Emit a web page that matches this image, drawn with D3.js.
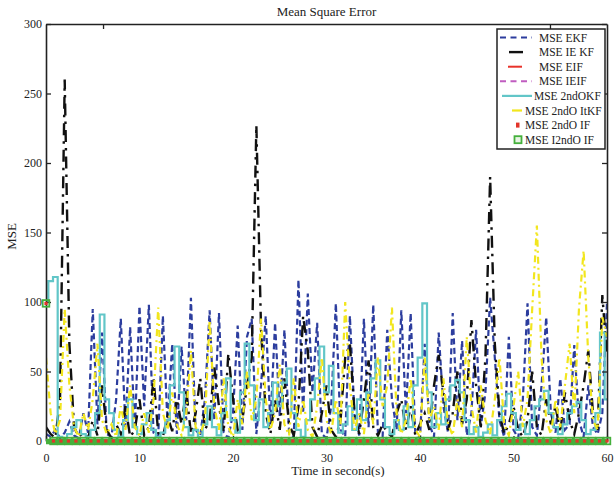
<!DOCTYPE html>
<html>
<head>
<meta charset="utf-8">
<script src="https://cdn.jsdelivr.net/npm/d3@7"></script>
<style>
  html, body { margin: 0; padding: 0; background: #fff; }
  svg { display: block; font-family: "Liberation Serif", "Times New Roman", serif; }
</style>
</head>
<body>
<svg id="chart" width="614" height="477"></svg>
<script>
// ---- data -------------------------------------------------------------
const timeStep = 0.5;        // seconds between filter samples
const markerStep = 0.8;      // seconds between information-filter samples

const mseEKF = [
  5, 3, 8, 2, 6, 14, 4, 2, 20, 6,
  95, 12, 78, 5, 3, 30, 88, 10, 82, 8,
  97, 25, 98, 6, 3, 90, 12, 70, 5, 68,
  15, 103, 8, 4, 30, 94, 15, 92, 6, 2,
  20, 83, 8, 75, 88, 5, 40, 90, 12, 85,
  18, 80, 6, 3, 116, 20, 106, 35, 85, 5,
  2, 25, 99, 8, 3, 90, 18, 4, 88, 10,
  98, 6, 3, 80, 30, 8, 94, 20, 92, 5,
  2, 70, 12, 3, 78, 25, 6, 92, 15, 72,
  4, 20, 80, 10, 35, 103, 60, 15, 3, 75,
  8, 2, 30, 99, 10, 4, 40, 89, 20, 6,
  45, 8, 12, 69, 15, 3, 40, 10, 5, 20,
  100
];

const mseIEKF = [
  10, 5, 2, 30, 260, 70, 10, 3, 6, 2,
  15, 4, 40, 8, 2, 12, 5, 25, 3, 8,
  30, 4, 10, 45, 6, 3, 18, 7, 30, 12,
  37, 5, 20, 45, 8, 15, 53, 25, 6, 63,
  30, 8, 15, 40, 60, 227, 80, 20, 5, 30,
  8, 45, 12, 4, 25, 90, 65, 10, 3, 20,
  40, 8, 3, 15, 60, 70, 20, 5, 30, 58,
  10, 4, 12, 6, 3, 20, 30, 8, 25, 4,
  12, 20, 8, 40, 62, 35, 8, 20, 50, 12,
  30, 87, 40, 10, 60, 190, 70, 20, 5, 12,
  25, 8, 3, 15, 50, 10, 4, 30, 12, 25,
  6, 35, 15, 5, 20, 40, 65, 20, 8, 105,
  60
];

const mse2ndOKF = [
  100, 115, 118, 3, 2, 5, 10, 15, 5, 3,
  8, 20, 91, 30, 20, 8, 3, 15, 30, 10,
  5, 12, 20, 8, 3, 6, 15, 40, 68, 35,
  10, 4, 8, 3, 12, 25, 10, 4, 20, 45,
  15, 6, 35, 70, 40, 15, 30, 10, 20, 42,
  25, 42, 52, 20, 8, 3, 15, 30, 45, 68,
  35, 54, 20, 6, 12, 25, 8, 30, 15, 35,
  45, 58, 30, 10, 5, 15, 8, 25, 10, 40,
  60, 99, 35, 10, 20, 12, 30, 40, 44, 35,
  15, 5, 10, 3, 6, 12, 4, 15, 25, 34,
  20, 8, 12, 5, 15, 25, 30, 36, 20, 10,
  5, 12, 20, 25, 28, 15, 5, 8, 20, 78,
  30
];

const mse2ndOItKF = [
  60, 20, 5, 15, 95, 40, 10, 3, 20, 8,
  30, 70, 15, 5, 12, 3, 25, 8, 40, 10,
  4, 20, 6, 30, 96, 20, 8, 35, 12, 4,
  20, 65, 10, 5, 15, 87, 25, 8, 45, 10,
  3, 30, 12, 50, 15, 30, 88, 30, 8, 20,
  55, 12, 4, 45, 10, 30, 8, 3, 25, 60,
  15, 5, 30, 12, 100, 40, 8, 20, 5, 35,
  12, 60, 25, 40, 96, 20, 5, 15, 45, 8,
  3, 60, 15, 25, 8, 45, 12, 4, 30, 10,
  75, 25, 6, 40, 15, 5, 30, 60, 12, 4,
  25, 50, 10, 30, 95, 155, 60, 15, 5, 30,
  10, 40, 70, 20, 95, 137, 60, 15, 8, 89,
  75
];

// information filters stay close to zero (sampled every 5 s)
const mseEIF  = [0.8, 0.5, 0.6, 0.4, 0.7, 0.5, 0.3, 0.6, 0.4, 0.5, 0.3, 0.4, 0.5];
const mseIEIF = [0.6, 0.4, 0.5, 0.3, 0.5, 0.4, 0.6, 0.3, 0.5, 0.4, 0.3, 0.5, 0.4];

const mse2ndOIF = [
  99, 0, 0, 0, 0, 0, 0, 0, 0, 0, 0, 0, 0, 0, 0, 0,
  0, 0, 0, 0, 0, 0, 0, 0, 0, 0, 0, 0, 0, 0, 0, 0,
  0, 0, 0, 0, 0, 0, 0, 0, 0, 0, 0, 0, 0, 0, 0, 0,
  0, 0, 0, 0, 0, 0, 0, 0, 0, 0, 0, 0, 0, 0, 0, 0,
  0, 0, 0, 0, 0, 0, 0, 0, 0, 0, 0, 0
];
const mseI2ndOIF = [
  99, 0, 0, 0, 0, 0, 0, 0, 0, 0, 0, 0, 0, 0, 0, 0,
  0, 0, 0, 0, 0, 0, 0, 0, 0, 0, 0, 0, 0, 0, 0, 0,
  0, 0, 0, 0, 0, 0, 0, 0, 0, 0, 0, 0, 0, 0, 0, 0,
  0, 0, 0, 0, 0, 0, 0, 0, 0, 0, 0, 0, 0, 0, 0, 0,
  0, 0, 0, 0, 0, 0, 0, 0, 0, 0, 0, 0
];

const xTicks = [0, 10, 20, 30, 40, 50, 60];
const yTicks = [0, 50, 100, 150, 200, 250, 300];
const topMinorTicks = [6.1, 53.9];

// ---- layout ------------------------------------------------------------
const svg = d3.select("#chart");
const plot = { left: 46, right: 607, top: 24, bottom: 441 };

const x = d3.scaleLinear().domain([0, 60]).range([plot.left, plot.right]);
const y = d3.scaleLinear().domain([0, 300]).range([plot.bottom, plot.top]);

svg.append("defs").append("clipPath").attr("id", "plotClip")
  .append("rect")
  .attr("x", plot.left).attr("y", plot.top - 2)
  .attr("width", plot.right - plot.left).attr("height", plot.bottom - plot.top + 4);

const lineSeries = [
  { label: "MSE EKF",       values: mseEKF,      step: timeStep, color: "#2c3d9e", width: 2.2, dash: "6,3.5",      curve: d3.curveLinear },
  { label: "MSE IE KF",     values: mseIEKF,     step: timeStep, color: "#111111", width: 2.4, dash: "12,6,2.5,6", curve: d3.curveLinear },
  { label: "MSE EIF",       values: mseEIF,      step: 5,        color: "#e8322a", width: 2,   dash: null,         curve: d3.curveLinear },
  { label: "MSE IEIF",      values: mseIEIF,     step: 5,        color: "#c05cc0", width: 2,   dash: "6,4",        curve: d3.curveLinear },
  { label: "MSE 2ndOKF",    values: mse2ndOKF,   step: timeStep, color: "#62c6c8", width: 2.2, dash: null,         curve: d3.curveStep },
  { label: "MSE 2ndO ItKF", values: mse2ndOItKF, step: timeStep, color: "#f2e61e", width: 2.2, dash: "7,4,2,4",    curve: d3.curveLinear }
];

const lines = svg.append("g").attr("clip-path", "url(#plotClip)");
lineSeries.forEach(s => {
  const gen = d3.line()
    .x((d, i) => x(i * s.step))
    .y(d => y(d))
    .curve(s.curve);
  lines.append("path")
    .datum(s.values)
    .attr("d", gen)
    .attr("fill", "none")
    .attr("stroke", s.color)
    .attr("stroke-width", s.width)
    .attr("stroke-dasharray", s.dash)
    .attr("stroke-linejoin", "miter");
});

// marker-only series along the baseline
const green = "#45b03c";
const red = "#e2352a";
const markers = svg.append("g");
markers.append("line")
  .attr("x1", plot.left).attr("x2", plot.right)
  .attr("y1", y(0) + 0.5).attr("y2", y(0) + 0.5)
  .attr("stroke", green).attr("stroke-width", 5.5);
markers.selectAll("rect.i2nd")
  .data(mseI2ndOIF)
  .join("rect")
  .attr("class", "i2nd")
  .attr("x", (d, i) => x(i * markerStep) - 3.3)
  .attr("y", d => y(d) - 3.3)
  .attr("width", 6.6).attr("height", 6.6)
  .attr("fill", "none")
  .attr("stroke", green).attr("stroke-width", 1.8);
markers.selectAll("rect.ifdot")
  .data(mse2ndOIF)
  .join("rect")
  .attr("class", "ifdot")
  .attr("x", (d, i) => x(i * markerStep) - 1.6)
  .attr("y", d => y(d) - 1.6)
  .attr("width", 3.2).attr("height", 3.2)
  .attr("fill", red);

// ---- axes --------------------------------------------------------------
const axisColor = "#222";
function styleAxis(g) {
  g.selectAll("path.domain").attr("stroke", axisColor).attr("stroke-width", 1.6);
  g.selectAll(".tick line").attr("stroke", axisColor).attr("stroke-width", 1.3);
  g.selectAll(".tick text")
    .attr("fill", "#222")
    .style("font-family", "'Liberation Serif', 'Times New Roman', serif")
    .style("font-size", "12px");
}

svg.append("g")
  .attr("transform", `translate(0,${plot.bottom})`)
  .call(d3.axisBottom(x).tickValues(xTicks).tickSize(-5).tickSizeOuter(0).tickPadding(12))
  .call(styleAxis);

svg.append("g")
  .attr("transform", `translate(${plot.left},0)`)
  .call(d3.axisLeft(y).tickValues(yTicks).tickSize(-5).tickSizeOuter(0).tickPadding(4))
  .call(styleAxis);

svg.append("g")
  .attr("transform", `translate(${plot.right},0)`)
  .call(d3.axisRight(y).tickValues(yTicks).tickSize(-5).tickSizeOuter(0).tickFormat(""))
  .call(styleAxis);

svg.append("g")
  .attr("transform", `translate(0,${plot.top})`)
  .call(d3.axisTop(x).tickValues(topMinorTicks).tickSize(-5).tickSizeOuter(0).tickFormat(""))
  .call(styleAxis);

// redraw the baseline markers over the bottom axis
markers.raise();

// ---- titles ------------------------------------------------------------
svg.append("text")
  .attr("x", (plot.left + plot.right) / 2).attr("y", 16)
  .attr("text-anchor", "middle")
  .attr("font-size", 13).attr("fill", "#222")
  .text("Mean Square Error");

svg.append("text")
  .attr("x", 338).attr("y", 475)
  .attr("text-anchor", "middle")
  .attr("font-size", 13).attr("fill", "#222")
  .text("Time in second(s)");

svg.append("text")
  .attr("transform", `translate(16,${(plot.top + plot.bottom) / 2 + 4}) rotate(-90)`)
  .attr("text-anchor", "middle")
  .attr("font-size", 13).attr("fill", "#222")
  .text("MSE");

// ---- legend ------------------------------------------------------------
const legend = svg.append("g");
legend.append("rect")
  .attr("x", 497).attr("y", 29).attr("width", 108).attr("height", 120)
  .attr("fill", "#fff").attr("stroke", axisColor).attr("stroke-width", 1.5);

const legendRows = [
  { label: "MSE EKF",       kind: "line",  series: 0, x1: 500, x2: 532, tx: 539 },
  { label: "MSE IE KF",     kind: "solid", series: 1, x1: 509, x2: 523, tx: 539 },
  { label: "MSE EIF",       kind: "line",  series: 2, x1: 508, x2: 522, tx: 539 },
  { label: "MSE IEIF",      kind: "line",  series: 3, x1: 500, x2: 532, tx: 539 },
  { label: "MSE 2ndOKF",    kind: "line",  series: 4, x1: 502, x2: 532, tx: 534 },
  { label: "MSE 2ndO ItKF", kind: "solid", series: 5, x1: 512, x2: 522, tx: 525 },
  { label: "MSE 2ndO IF",   kind: "dot",   tx: 525 },
  { label: "MSE I2ndO IF",  kind: "square", tx: 525 }
];

legendRows.forEach((r, i) => {
  const cy = 37.5 + i * 14.6;
  if (r.kind === "line" || r.kind === "solid") {
    const s = lineSeries[r.series];
    legend.append("line")
      .attr("x1", r.x1).attr("x2", r.x2).attr("y1", cy).attr("y2", cy)
      .attr("stroke", s.color).attr("stroke-width", s.width)
      .attr("stroke-dasharray", r.kind === "solid" ? null : (r.series === 0 || r.series === 3 ? "6,4.5" : s.dash));
  } else if (r.kind === "dot") {
    legend.append("rect")
      .attr("x", 516).attr("y", cy - 2.5).attr("width", 3.5).attr("height", 5)
      .attr("fill", red);
  } else {
    legend.append("rect")
      .attr("x", 514.5).attr("y", cy - 3.5).attr("width", 7).attr("height", 7)
      .attr("fill", "#e8f4e4").attr("stroke", green).attr("stroke-width", 1.8);
  }
  legend.append("text")
    .attr("x", r.tx).attr("y", cy + 4)
    .attr("font-size", 11.5).attr("fill", "#222")
    .text(r.label);
});
</script>
</body>
</html>
